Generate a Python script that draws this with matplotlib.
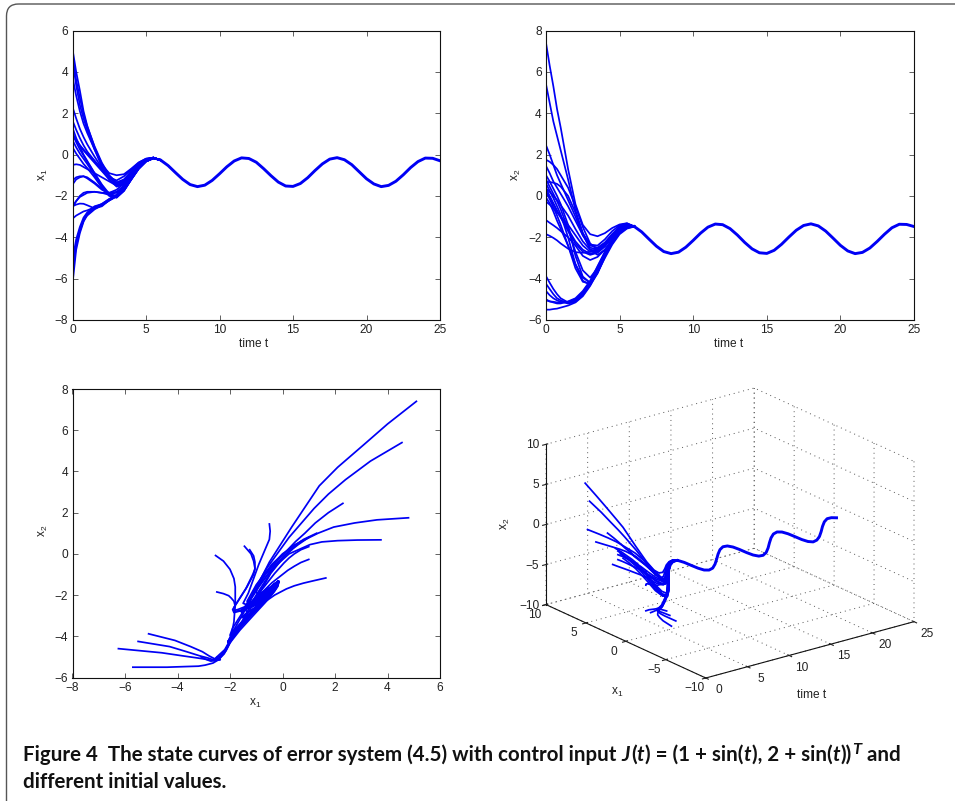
import matplotlib
matplotlib.use('Agg')
import matplotlib.pyplot as plt
from matplotlib.patches import FancyBboxPatch
from matplotlib.transforms import Affine2D
from mpl_toolkits.mplot3d import proj3d

W, H = 955, 801
plt.rcParams['font.family'] = ['Liberation Sans', 'DejaVu Sans']
plt.rcParams['mathtext.fontset'] = 'custom'
plt.rcParams['mathtext.rm'] = 'Liberation Sans'
plt.rcParams['mathtext.it'] = 'Liberation Sans:italic'
plt.rcParams['mathtext.default'] = 'regular'
plt.rcParams['grid.linestyle'] = (0, (1, 4))
plt.rcParams['grid.linewidth'] = 0.7
plt.rcParams['grid.color'] = '#555555'
plt.rcParams['axes3d.grid'] = True

t_knots = [0, .25, .5, .75, 1, 1.5, 2, 2.5, 3, 3.5, 4, 4.5, 5, 5.5]
t_tail = [6 + 0.5 * i for i in range(39)]

x1_tail = [-.27, -.53, -.87, -1.20, -1.45, -1.55, -1.48, -1.25, -.93, -.59, -.31, -.16, -.19, -.37,
           -.68, -1.02, -1.33, -1.52, -1.54, -1.40, -1.12, -.77, -.45, -.22, -.15, -.25, -.49, -.83,
           -1.17, -1.42, -1.55, -1.49, -1.29, -.98, -.63, -.34, -.17, -.18, -.30]
x2_tail = [-1.48, -1.74, -2.09, -2.43, -2.69, -2.79, -2.72, -2.48, -2.15, -1.80, -1.51, -1.36, -1.39, -1.58,
           -1.89, -2.25, -2.56, -2.75, -2.78, -2.63, -2.34, -1.99, -1.66, -1.43, -1.35, -1.45, -1.70, -2.04,
           -2.39, -2.66, -2.79, -2.73, -2.52, -2.20, -1.85, -1.54, -1.37, -1.38, -1.48]

x1_curves = [
    [5.1, 4.0, 3.1, 2.1, 1.4, .35, -.5, -.9, -1.0, -.95, -.68, -.38, -.2, -.15],
    [4.55, 3.35, 2.4, 1.75, 1.2, .25, -.6, -1.1, -1.25, -1.05, -.72, -.4, -.2, -.15],
    [2.3, 1.75, 1.25, .85, .5, -.1, -.65, -1.1, -1.35, -1.2, -.8, -.45, -.22, -.15],
    [4.8, 3.6, 2.75, 1.95, 1.35, .4, -.4, -1, -1.35, -1.25, -.85, -.48, -.24, -.15],
    [3.75, 2.85, 2.1, 1.5, 1.05, .25, -.45, -1.05, -1.45, -1.35, -.95, -.5, -.25, -.15],
    [1.65, 1.2, .8, .45, .15, -.3, -.75, -1.2, -1.55, -1.45, -1.05, -.55, -.28, -.15],
    [1.0, .7, .45, .2, 0, -.4, -.8, -1.2, -1.5, -1.4, -.95, -.5, -.25, -.15],
    [1.0, .7, .45, .25, .05, -.3, -.7, -1.1, -1.4, -1.3, -.9, -.48, -.24, -.15],
    [-.5, -.47, -.5, -.6, -.7, -.9, -1.1, -1.3, -1.5, -1.3, -.9, -.48, -.24, -.15],
    [-1.45, -1.2, -1.1, -1.05, -1.1, -1.35, -1.65, -1.85, -1.8, -1.5, -1.0, -.55, -.26, -.15],
    [-1.25, -1.1, -1.05, -1.05, -1.15, -1.4, -1.7, -1.9, -1.85, -1.55, -1.05, -.55, -.27, -.15],
    [-2.55, -2.25, -2.0, -1.85, -1.8, -1.8, -1.85, -1.95, -2.0, -1.7, -1.2, -.68, -.33, -.18],
    [-2.5, -2.25, -2.05, -1.95, -1.85, -1.8, -1.85, -1.85, -1.7, -1.4, -.95, -.52, -.26, -.15],
    [-5.1, -4.1, -3.5, -3.05, -2.8, -2.5, -2.4, -2.15, -1.95, -1.55, -1.05, -.6, -.3, -.17],
    [-5.5, -4.3, -3.65, -3.15, -2.85, -2.55, -2.42, -2.2, -2.0, -1.6, -1.1, -.62, -.3, -.17],
    [-6.25, -4.6, -3.8, -3.25, -2.9, -2.6, -2.45, -2.22, -2.02, -1.62, -1.12, -.65, -.32, -.18],
    [-5.7, -4.4, -3.7, -3.2, -2.95, -2.65, -2.45, -2.22, -2.02, -1.62, -1.12, -.65, -.32, -.18],
    [-2.5, -2.42, -2.37, -2.38, -2.45, -2.6, -2.5, -2.2, -1.98, -1.58, -1.08, -.6, -.3, -.17],
    [-3.1, -2.95, -2.85, -2.75, -2.7, -2.55, -2.38, -2.15, -1.95, -1.55, -1.05, -.6, -.3, -.17],
    [1.3, .8, .4, 0, -.3, -.9, -1.5, -1.95, -2.05, -1.75, -1.2, -.68, -.33, -.18],
    [.7, .35, .05, -.2, -.45, -1.0, -1.55, -1.98, -2.08, -1.75, -1.2, -.68, -.33, -.18],
    [.35, .05, -.2, -.45, -.65, -1.1, -1.6, -2.0, -2.08, -1.75, -1.2, -.7, -.34, -.18],
    [1.0, .6, .25, -.05, -.35, -.9, -1.45, -1.9, -2, -1.7, -1.15, -.65, -.32, -.18],
]
x2_curves = [
    [7.4, 6.3, 5.3, 4.2, 3.3, 1.3, -.4, -1.4, -1.85, -1.95, -1.8, -1.55, -1.38, -1.32],
    [5.4, 4.5, 3.6, 2.9, 2.2, .8, -.7, -1.8, -2.35, -2.4, -2.1, -1.7, -1.42, -1.33],
    [2.45, 2.0, 1.5, 1.0, .6, -.2, -1.0, -1.9, -2.5, -2.6, -2.3, -1.85, -1.5, -1.36],
    [1.75, 1.65, 1.5, 1.3, 1.0, .4, -.5, -1.5, -2.3, -2.6, -2.4, -1.95, -1.55, -1.38],
    [.68, .67, .64, .58, .45, .0, -.8, -1.8, -2.6, -2.85, -2.6, -2.1, -1.65, -1.42],
    [-1.17, -1.3, -1.42, -1.55, -1.7, -2.0, -2.4, -2.9, -3.1, -2.95, -2.6, -2.15, -1.7, -1.45],
    [-.27, -.42, -.6, -.8, -1.0, -1.4, -1.9, -2.4, -2.7, -2.7, -2.4, -1.95, -1.55, -1.38],
    [.35, .2, 0, -.2, -.45, -.95, -1.6, -2.2, -2.6, -2.65, -2.35, -1.9, -1.5, -1.36],
    [1.45, 1.1, .7, .4, .1, -.5, -1.2, -1.9, -2.4, -2.5, -2.25, -1.85, -1.5, -1.36],
    [.37, 0, -.35, -.7, -1.0, -1.6, -2.2, -2.6, -2.8, -2.7, -2.4, -1.95, -1.55, -1.38],
    [.2, -.1, -.4, -.75, -1.05, -1.7, -2.3, -2.7, -2.85, -2.75, -2.45, -2.0, -1.58, -1.4],
    [-.08, -.35, -.75, -1.2, -1.6, -2.4, -3.3, -3.95, -4.2, -3.7, -2.9, -2.2, -1.7, -1.5],
    [-1.85, -1.93, -2.03, -2.15, -2.3, -2.55, -2.72, -2.75, -2.7, -2.55, -2.3, -1.9, -1.52, -1.37],
    [-3.88, -4.2, -4.5, -4.75, -4.95, -5.15, -5.05, -4.7, -4.2, -3.45, -2.75, -2.2, -1.75, -1.5],
    [-4.25, -4.5, -4.75, -4.95, -5.05, -5.18, -5.1, -4.75, -4.25, -3.55, -2.85, -2.25, -1.78, -1.52],
    [-4.6, -4.8, -4.95, -5.05, -5.12, -5.2, -5.12, -4.8, -4.3, -3.6, -2.9, -2.3, -1.8, -1.55],
    [-5.5, -5.5, -5.47, -5.45, -5.4, -5.3, -5.15, -4.85, -4.35, -3.7, -3.0, -2.35, -1.85, -1.58],
    [-5.05, -5.1, -5.12, -5.15, -5.15, -5.12, -5.0, -4.65, -4.15, -3.45, -2.75, -2.15, -1.72, -1.5],
    [-5.0, -5.1, -5.15, -5.2, -5.2, -5.1, -4.95, -4.6, -4.1, -3.4, -2.7, -2.1, -1.7, -1.48],
    [1.0, .7, .35, 0, -.4, -1.4, -2.9, -3.9, -4.2, -3.7, -2.9, -2.2, -1.7, -1.5],
    [.6, .25, -.1, -.5, -.9, -2.0, -3.3, -4.1, -4.3, -3.75, -2.95, -2.2, -1.7, -1.5],
    [.2, -.15, -.55, -.95, -1.4, -2.4, -3.5, -4.15, -4.25, -3.65, -2.85, -2.15, -1.68, -1.48],
    [.8, .45, .1, -.25, -.65, -1.6, -2.7, -3.6, -3.95, -3.5, -2.75, -2.1, -1.65, -1.46],
]

t_ticks = [0, 5, 10, 15, 20, 25]
x1_ticks_2d = [-8, -6, -4, -2, 0, 2, 4, 6]
x2_ticks_a = [-6, -4, -2, 0, 2, 4, 6, 8]
ticks_3d = [-10, -5, 0, 5, 10]

caption_line1 = [
    ('Figure 4  The state curves of error system (4.5) with control input ', 'normal', 0),
    ('J', 'italic', 0), ('(', 'normal', 0), ('t', 'italic', 0),
    (') = (1 + sin(', 'normal', 0), ('t', 'italic', 0), ('), 2 + sin(', 'normal', 0),
    ('t', 'italic', 0), ('))', 'normal', 0), ('T', 'italic', 1), (' and', 'normal', 0),
]
caption_line2 = 'different initial values.'

BLUE = '#0000f5'
LW = 1.25
LW_TAIL = 2.1
TICK_FS = 8.6
TXT = '#222222'

fig = plt.figure(figsize=(W / 100, H / 100), dpi=100)


def px_axes(l, t, r, b):
    return fig.add_axes([l / W, 1 - b / H, (r - l) / W, (b - t) / H])


def style(ax):
    ax.tick_params(direction='in', length=3.5, width=0.5, top=True, right=True,
                   labelsize=TICK_FS, pad=3, color=TXT, labelcolor=TXT)
    for s in ax.spines.values():
        s.set_linewidth(0.8)
        s.set_color('#111111')


def joined(curve, tail):
    return curve + tail[:1]


full_t = t_knots + t_tail[:1]

# top left
ax = px_axes(72.5, 30.5, 440, 320)
for y in x1_curves:
    ax.plot(full_t, joined(y, x1_tail), color=BLUE, lw=LW)
ax.plot(t_tail, x1_tail, color=BLUE, lw=LW_TAIL)
ax.set_xlim(0, 25); ax.set_ylim(-8, 6)
ax.set_xticks(t_ticks); ax.set_yticks(x1_ticks_2d)
style(ax)
fig.text(254 / W, 1 - 343.5 / H, 'time t', fontsize=TICK_FS, ha='center', va='center', color=TXT)
fig.text(43 / W, 1 - 175 / H, 'x$_1$', fontsize=TICK_FS, rotation=90, ha='center', va='center', color=TXT)

# top right
ax = px_axes(546, 30.5, 914, 320)
for y in x2_curves:
    ax.plot(full_t, joined(y, x2_tail), color=BLUE, lw=LW)
ax.plot(t_tail, x2_tail, color=BLUE, lw=LW_TAIL)
ax.set_xlim(0, 25); ax.set_ylim(-6, 8)
ax.set_xticks(t_ticks); ax.set_yticks(x2_ticks_a)
style(ax)
fig.text(729 / W, 1 - 343.5 / H, 'time t', fontsize=TICK_FS, ha='center', va='center', color=TXT)
fig.text(516 / W, 1 - 175 / H, 'x$_2$', fontsize=TICK_FS, rotation=90, ha='center', va='center', color=TXT)

# bottom left
ax = px_axes(72.5, 389, 440, 677.5)
for a, b in zip(x1_curves, x2_curves):
    ax.plot(joined(a, x1_tail), joined(b, x2_tail), color=BLUE, lw=LW)
ax.plot(x1_tail, x2_tail, color=BLUE, lw=LW_TAIL)
ax.set_xlim(-8, 6); ax.set_ylim(-6, 8)
ax.set_xticks(x1_ticks_2d); ax.set_yticks(x2_ticks_a)
style(ax)
fig.text(255 / W, 1 - 703 / H, 'x$_1$', fontsize=TICK_FS, ha='center', va='center', color=TXT)
fig.text(43 / W, 1 - 531 / H, 'x$_2$', fontsize=TICK_FS, rotation=90, ha='center', va='center', color=TXT)

# bottom right: orthographic 3-D view stretched to fill its box, as the source program does
ax3 = fig.add_axes([0.5, 0.1, 0.4, 0.4], projection='3d', proj_type='ortho')
ax3.apply_aspect = lambda position=None: None
ax3.set_box_aspect((1, 1, 1))
ax3.view_init(elev=30, azim=-127.5)
for y, z in zip(x1_curves, x2_curves):
    ax3.plot(full_t, joined(y, x1_tail), joined(z, x2_tail), color=BLUE, lw=LW)
ax3.plot(t_tail, x1_tail, x2_tail, color=BLUE, lw=LW_TAIL)
ax3.set_xlim(0, 25); ax3.set_ylim(-10, 10); ax3.set_zlim(-10, 10)
ax3.set_xticks(t_ticks); ax3.set_yticks(ticks_3d); ax3.set_zticks(ticks_3d)
ax3.patch.set_alpha(0)
for axis in (ax3.xaxis, ax3.yaxis, ax3.zaxis):
    axis.set_pane_color((1, 1, 1, 0))
    axis.pane.set_edgecolor((1, 1, 1, 0))
    axis.line.set_color('#111111')
    axis.line.set_linewidth(0.8)
ax3.tick_params(labelsize=TICK_FS, colors=TXT, pad=0)


def nudge(axis, dx, dy, ha=None):
    # Axis3D.get_major_ticks resets each label's transform, so the offset is reapplied there
    original = axis.get_major_ticks
    offset = Affine2D().translate(dx, dy)

    def patched(numticks=None):
        ticks = original(numticks)
        for tick in ticks:
            tick.label1.set_transform(ax3.transData + offset)
            if ha:
                tick.label1.set_ha(ha)
        return ticks

    axis.get_major_ticks = patched


nudge(ax3.xaxis, 4, 7)
nudge(ax3.yaxis, 0, 8)
nudge(ax3.zaxis, 14, 4, ha='right')

M = ax3.get_proj()
us, vs = [], []
for cx in (0, 25):
    for cy in (-10, 10):
        for cz in (-10, 10):
            u, v, _ = proj3d.proj_transform(cx, cy, cz, M)
            us.append(float(u)); vs.append(float(v))
vl = ax3.viewLim
pw = (914 - 546) / (max(us) - min(us)) * (vl.x1 - vl.x0)
ph = (678 - 388) / (max(vs) - min(vs)) * (vl.y1 - vl.y0)
pl = 546 - (min(us) - vl.x0) * pw / (vl.x1 - vl.x0)
pb = 678 + (min(vs) - vl.y0) * ph / (vl.y1 - vl.y0)
ax3.set_position([pl / W, 1 - pb / H, pw / W, ph / H])

fig.text(812 / W, 1 - 694.5 / H, 'time t', fontsize=TICK_FS, ha='center', va='center', color=TXT)
fig.text(617 / W, 1 - 692.5 / H, 'x$_1$', fontsize=TICK_FS, ha='center', va='center', color=TXT)
fig.text(505 / W, 1 - 524 / H, 'x$_2$', fontsize=TICK_FS, rotation=90, ha='center', va='center', color=TXT)

# outer rounded frame
frame = FancyBboxPatch((6.5, 4), W + 40, H + 40, boxstyle='round,pad=0,rounding_size=12',
                       fill=False, edgecolor='#555555', linewidth=1.0, clip_on=True)
frame.set_transform(Affine2D().scale(1, -1).translate(0, H))
fig.add_artist(frame)

# caption
CAP_FS = 14.75
renderer = fig.canvas.get_renderer()
xpos = 23.0
base = 761
for s, sty, sup in caption_line1:
    txt = fig.text(xpos / W, 1 - (base - (7 if sup else 0)) / H, s.replace(' ', '\u00a0'), family='Lato', weight='bold',
                   style=sty, fontsize=CAP_FS * (0.8 if sup else 1), ha='left', va='baseline', color='#111111')
    xpos = txt.get_window_extent(renderer).x1 + (1.0 if sty == 'italic' else 0)
fig.text(23 / W, 1 - 788 / H, caption_line2, family='Lato', weight='bold', fontsize=CAP_FS,
         ha='left', va='baseline', color='#111111')

fig.savefig('out.png', dpi=100)
